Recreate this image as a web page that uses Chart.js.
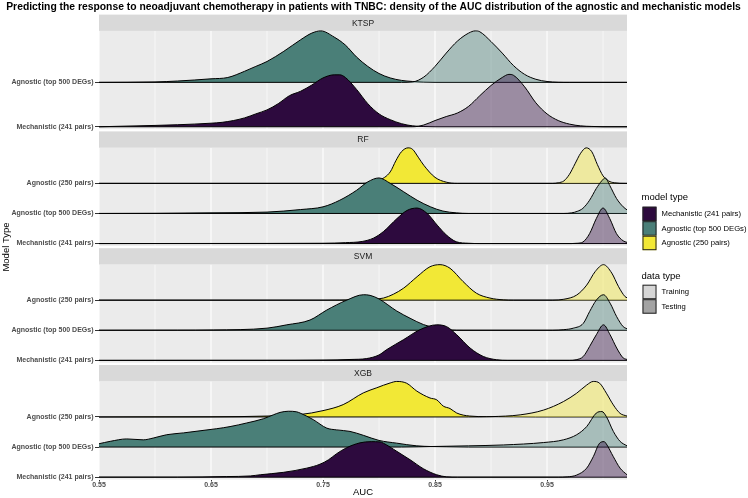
<!DOCTYPE html>
<html><head><meta charset="utf-8">
<script src="https://cdn.jsdelivr.net/npm/chart.js@4.4.1/dist/chart.umd.min.js"></script>
<style>html,body{margin:0;padding:0;background:#fff;}</style>
</head><body>
<canvas id="c" width="748" height="498"></canvas>
<script>
// ---------------- data ----------------
const chartTitle = "Predicting the response to neoadjuvant chemotherapy in patients with TNBC: density of the AUC distribution of the agnostic and mechanistic models";
const facets = ["KTSP", "RF", "SVM", "XGB"];
const modelTypes = ["Mechanistic (241 pairs)", "Agnostic (top 500 DEGs)", "Agnostic (250 pairs)"];
const dataTypes = ["Training", "Testing"];
const xTitle = "AUC";
const yTitle = "Model Type";
const xTicks = [0.55, 0.65, 0.75, 0.85, 0.95];
const xMinor = [0.60, 0.70, 0.80, 0.90, 1.00];
const xRange = [0.55, 1.0214];
// model rows per facet, bottom to top (indices into modelTypes)
const KTSP_rows = [0, 1];
const RF_rows = [0, 1, 2];
const SVM_rows = [0, 1, 2];
const XGB_rows = [0, 1, 2];

// ridge heights (row units) read at AUC values: [AUC, height]
const KTSP_top500_testing = [[0.55,0],[0.60,0.01],[0.62,0.03],[0.65,0.08],[0.665,0.11],[0.68,0.25],[0.69,0.36],[0.70,0.47],[0.715,0.70],[0.73,0.96],[0.74,1.11],[0.748,1.16],[0.76,1.02],[0.77,0.84],[0.78,0.57],[0.79,0.36],[0.80,0.20],[0.81,0.10],[0.82,0.045],[0.83,0.02],[0.85,0],[1.0214,0]];
const KTSP_top500_training = [[0.55,0],[0.82,0],[0.83,0.01],[0.84,0.12],[0.85,0.36],[0.86,0.66],[0.87,0.93],[0.88,1.11],[0.886,1.16],[0.89,1.14],[0.90,0.92],[0.91,0.66],[0.92,0.38],[0.93,0.18],[0.94,0.07],[0.95,0.02],[0.97,0],[1.0214,0]];
const KTSP_mech_testing = [[0.55,0],[0.60,0.03],[0.62,0.045],[0.65,0.08],[0.66,0.10],[0.67,0.14],[0.68,0.20],[0.69,0.29],[0.70,0.38],[0.71,0.52],[0.72,0.70],[0.73,0.80],[0.74,0.94],[0.75,1.10],[0.76,1.17],[0.765,1.17],[0.77,1.11],[0.78,0.84],[0.79,0.52],[0.80,0.29],[0.81,0.16],[0.82,0.07],[0.83,0.02],[0.84,0.005],[0.85,0],[1.0214,0]];
const KTSP_mech_training = [[0.55,0],[0.83,0],[0.84,0.04],[0.85,0.14],[0.86,0.23],[0.87,0.31],[0.88,0.46],[0.89,0.70],[0.90,0.93],[0.91,1.11],[0.916,1.18],[0.92,1.16],[0.93,0.90],[0.94,0.54],[0.95,0.29],[0.96,0.14],[0.97,0.06],[0.98,0.02],[0.99,0.007],[1.0,0],[1.0214,0]];

const RF_250_testing = [[0.55,0],[0.78,0],[0.79,0.01],[0.80,0.1],[0.81,0.38],[0.815,0.75],[0.82,1.05],[0.826,1.18],[0.83,1.13],[0.835,0.87],[0.84,0.6],[0.85,0.2],[0.86,0.04],[0.87,0],[1.0214,0]];
const RF_250_training = [[0.55,0],[0.955,0],[0.96,0.02],[0.965,0.08],[0.97,0.3],[0.975,0.65],[0.98,1.0],[0.985,1.18],[0.99,1.05],[0.995,0.62],[1.0,0.25],[1.005,0.08],[1.01,0.02],[1.02,0],[1.0214,0]];
const RF_top500_testing = [[0.55,0],[0.60,0.005],[0.65,0.02],[0.70,0.045],[0.73,0.13],[0.75,0.22],[0.765,0.44],[0.78,0.77],[0.79,1.05],[0.80,1.18],[0.81,1.0],[0.822,0.72],[0.834,0.44],[0.846,0.22],[0.857,0.08],[0.869,0.02],[0.88,0],[1.0214,0]];
const RF_top500_training = [[0.55,0],[0.965,0],[0.972,0.02],[0.977,0.07],[0.982,0.17],[0.988,0.44],[0.994,0.83],[0.999,1.09],[1.002,1.18],[1.006,0.93],[1.012,0.5],[1.018,0.22],[1.0214,0.12]];
const RF_mech_testing = [[0.55,0],[0.70,0.005],[0.75,0.01],[0.77,0.03],[0.785,0.07],[0.795,0.18],[0.804,0.4],[0.816,0.83],[0.825,1.1],[0.834,1.18],[0.843,1.0],[0.852,0.61],[0.86,0.29],[0.869,0.06],[0.88,0.01],[0.89,0],[1.0214,0]];
const RF_mech_training = [[0.55,0],[0.972,0],[0.977,0.01],[0.982,0.05],[0.988,0.33],[0.994,0.83],[1.0,1.18],[1.006,0.83],[1.012,0.33],[1.018,0.09],[1.0214,0.04]];

const SVM_250_testing = [[0.55,0],[0.75,0],[0.78,0.01],[0.795,0.03],[0.804,0.07],[0.813,0.2],[0.822,0.4],[0.834,0.78],[0.8455,1.11],[0.8545,1.18],[0.8634,1.06],[0.875,0.62],[0.887,0.23],[0.899,0.07],[0.911,0.01],[0.92,0],[1.0214,0]];
const SVM_250_training = [[0.55,0],[0.955,0],[0.965,0.03],[0.9765,0.17],[0.9854,0.5],[0.993,0.95],[1.0004,1.18],[1.0078,0.9],[1.0137,0.46],[1.0196,0.12],[1.0214,0.08]];
const SVM_top500_testing = [[0.55,0],[0.62,0.003],[0.652,0.01],[0.70,0.07],[0.7176,0.18],[0.7384,0.34],[0.7533,0.67],[0.7712,1.0],[0.786,1.18],[0.792,1.16],[0.80,1.04],[0.8158,0.64],[0.8277,0.4],[0.8396,0.19],[0.8515,0.07],[0.8634,0.01],[0.875,0],[1.0214,0]];
const SVM_top500_training = [[0.55,0],[0.955,0],[0.965,0.02],[0.9735,0.07],[0.9824,0.23],[0.988,0.62],[0.994,1.0],[1.0004,1.18],[1.0063,0.9],[1.0122,0.45],[1.018,0.12],[1.0214,0.05]];
const SVM_mech_testing = [[0.55,0],[0.70,0.003],[0.75,0.01],[0.775,0.03],[0.789,0.06],[0.80,0.18],[0.807,0.36],[0.822,0.69],[0.8366,1.02],[0.8515,1.18],[0.8604,1.12],[0.8694,0.85],[0.8813,0.41],[0.8931,0.13],[0.905,0.02],[0.915,0],[1.0214,0]];
const SVM_mech_training = [[0.55,0],[0.97,0],[0.976,0.02],[0.9824,0.13],[0.988,0.46],[0.994,0.85],[1.0004,1.18],[1.0063,0.85],[1.0122,0.41],[1.018,0.08],[1.0214,0.03]];

const XGB_250_testing = [[0.55,0],[0.65,0.005],[0.70,0.03],[0.7295,0.08],[0.75,0.21],[0.768,0.41],[0.786,0.8],[0.798,0.97],[0.81,1.13],[0.8158,1.18],[0.8247,1.12],[0.8337,0.86],[0.8455,0.63],[0.8515,0.57],[0.8574,0.36],[0.8634,0.28],[0.8694,0.13],[0.881,0.03],[0.896,0.01],[0.92,0.005],[0.94,0],[1.0214,0]];
const XGB_250_training = [[0.55,0],[0.88,0],[0.90,0.01],[0.926,0.07],[0.947,0.23],[0.9646,0.51],[0.9765,0.79],[0.9854,1.06],[0.9913,1.18],[0.997,1.12],[1.003,0.79],[1.0092,0.4],[1.0152,0.12],[1.0214,0.03]];
const XGB_top500_testing = [[0.55,0.11],[0.56,0.19],[0.5747,0.27],[0.5896,0.24],[0.5985,0.3],[0.6104,0.41],[0.6253,0.47],[0.6402,0.54],[0.6551,0.61],[0.667,0.68],[0.6819,0.8],[0.6967,0.94],[0.7056,1.07],[0.7116,1.15],[0.719,1.19],[0.7265,1.17],[0.7295,1.13],[0.7413,0.91],[0.7533,0.63],[0.7622,0.57],[0.7741,0.52],[0.786,0.39],[0.80,0.22],[0.8158,0.13],[0.8337,0.04],[0.86,0.01],[0.88,0],[1.0214,0]];
const XGB_top500_training = [[0.55,0],[0.82,0],[0.85,0.02],[0.88,0.04],[0.911,0.07],[0.947,0.15],[0.9646,0.24],[0.9765,0.41],[0.9854,0.68],[0.994,1.13],[0.999,1.18],[1.003,1.01],[1.0092,0.52],[1.0152,0.19],[1.0214,0.04]];
const XGB_mech_testing = [[0.55,0],[0.62,0],[0.664,0.02],[0.685,0.04],[0.694,0.08],[0.7146,0.16],[0.7355,0.3],[0.7473,0.43],[0.755,0.58],[0.7622,0.78],[0.7712,0.98],[0.783,1.14],[0.793,1.18],[0.8009,1.17],[0.8038,1.13],[0.8158,0.86],[0.8277,0.58],[0.8396,0.28],[0.8515,0.08],[0.8604,0.01],[0.87,0],[1.0214,0]];
const XGB_mech_training = [[0.55,0],[0.96,0],[0.968,0.01],[0.9765,0.07],[0.9854,0.3],[0.9913,0.68],[0.997,1.13],[1.001,1.18],[1.003,1.1],[1.0092,0.68],[1.0152,0.3],[1.0214,0.08]];

// ---------------- styling / layout ----------------
const FONT = "'Liberation Sans', Arial, Helvetica, sans-serif";
const modelColors = ["#2D0A3E", "#4A7F78", "#F2E836"];
const TRAIN_ALPHA = 0.42;
const dataKeyColors = ["#D6D6D6", "#A3A3A3"];
const GAP = 2.3, STRIP = 16.3, BODY = 98.2, H_MAX = 1.107, EXP = 0.025;
const Y_AXIS_W = 99, X_AXIS_H = 18.5;

const facetRows = { KTSP: KTSP_rows, RF: RF_rows, SVM: SVM_rows, XGB: XGB_rows };
const ridgeTable = [
  ["KTSP", 1, "Testing", KTSP_top500_testing], ["KTSP", 1, "Training", KTSP_top500_training],
  ["KTSP", 0, "Testing", KTSP_mech_testing], ["KTSP", 0, "Training", KTSP_mech_training],
  ["RF", 2, "Testing", RF_250_testing], ["RF", 2, "Training", RF_250_training],
  ["RF", 1, "Testing", RF_top500_testing], ["RF", 1, "Training", RF_top500_training],
  ["RF", 0, "Testing", RF_mech_testing], ["RF", 0, "Training", RF_mech_training],
  ["SVM", 2, "Testing", SVM_250_testing], ["SVM", 2, "Training", SVM_250_training],
  ["SVM", 1, "Testing", SVM_top500_testing], ["SVM", 1, "Training", SVM_top500_training],
  ["SVM", 0, "Testing", SVM_mech_testing], ["SVM", 0, "Training", SVM_mech_training],
  ["XGB", 2, "Testing", XGB_250_testing], ["XGB", 2, "Training", XGB_250_training],
  ["XGB", 1, "Testing", XGB_top500_testing], ["XGB", 1, "Training", XGB_top500_training],
  ["XGB", 0, "Testing", XGB_mech_testing], ["XGB", 0, "Training", XGB_mech_training]
];

function hexToRgba(hex, a) {
  const n = parseInt(hex.slice(1), 16);
  return `rgba(${(n >> 16) & 255},${(n >> 8) & 255},${n & 255},${a})`;
}
function panelRange(n) {
  const span = (n - 1 + H_MAX) * (1 + 2 * EXP);
  const min = 1 - EXP * (n - 1 + H_MAX);
  const s = BODY / span;
  return { min, bodyMax: min + span, max: min + (BODY + STRIP + GAP) / s };
}

const datasets = ridgeTable.map(([facet, model, dtype, pts], k) => {
  const rowPos = facetRows[facet].indexOf(model) + 1;
  const col = modelColors[model];
  return {
    label: facet + " " + modelTypes[model] + " " + dtype,
    yAxisID: "y" + facet,
    data: pts.map(([a, h]) => ({ x: a, y: rowPos + h })),
    fill: { value: rowPos },
    backgroundColor: dtype === "Training" ? hexToRgba(col, TRAIN_ALPHA) : col,
    borderColor: "#000",
    borderWidth: 1,
    pointRadius: 0,
    cubicInterpolationMode: "monotone",
    order: ridgeTable.length - k
  };
});

const scales = {
  x: {
    type: "linear", position: "bottom", min: xRange[0], max: xRange[1],
    afterBuildTicks: s => { s.ticks = xTicks.map(v => ({ value: v })); },
    afterFit: s => { s.height = X_AXIS_H; },
    ticks: { autoSkip: false, maxRotation: 0, padding: -0.5, color: "#4D4D4D",
      font: { family: FONT, size: 7, weight: "bold" }, callback: v => Number(v).toFixed(2) },
    grid: { drawOnChartArea: false, drawTicks: true, tickLength: 2, color: "#333", lineWidth: 1 },
    border: { display: false }
  }
};
facets.forEach((f, i) => {
  const rows = facetRows[f];
  const r = panelRange(rows.length);
  scales["y" + f] = {
    type: "linear", position: "left", stack: "facets", stackWeight: 1, weight: facets.length - i,
    min: r.min, max: r.max, bounds: "data",
    afterBuildTicks: s => { s.ticks = rows.map((m, k) => ({ value: k + 1 })); },
    afterFit: s => { s.width = Y_AXIS_W; },
    ticks: { autoSkip: false, padding: 1.5, color: "#4D4D4D",
      font: { family: FONT, size: 7, weight: "bold" },
      callback: v => modelTypes[rows[Math.round(v) - 1]] },
    grid: { drawOnChartArea: false, drawTicks: true, tickLength: 4, color: "#333", lineWidth: 1 },
    border: { display: false }
  };
});

const facetPlugin = {
  id: "facetPanels",
  beforeDraw(chart) {
    const ctx = chart.ctx, ca = chart.chartArea, xs = chart.scales.x;
    ctx.save();
    ctx.fillStyle = "#fff";
    ctx.fillRect(0, 0, chart.width, chart.height);
    facets.forEach(f => {
      const ys = chart.scales["y" + f];
      const r = panelRange(facetRows[f].length);
      const bodyTop = ys.getPixelForValue(r.bodyMax), bodyBot = ys.getPixelForValue(r.min);
      const stripTop = bodyTop - STRIP;
      ctx.fillStyle = "#EBEBEB";
      ctx.fillRect(ca.left, bodyTop, ca.right - ca.left, bodyBot - bodyTop);
      ctx.strokeStyle = "#FFFFFF";
      xMinor.forEach(v => {
        const px = xs.getPixelForValue(v);
        ctx.lineWidth = 0.6;
        ctx.beginPath(); ctx.moveTo(px, bodyTop); ctx.lineTo(px, bodyBot); ctx.stroke();
      });
      xTicks.forEach(v => {
        const px = xs.getPixelForValue(v);
        ctx.lineWidth = 1.1;
        ctx.beginPath(); ctx.moveTo(px, bodyTop); ctx.lineTo(px, bodyBot); ctx.stroke();
      });
      ctx.fillStyle = "#D9D9D9";
      ctx.fillRect(ca.left, stripTop, ca.right - ca.left, STRIP);
      ctx.fillStyle = "#1A1A1A";
      ctx.font = `8.5px ${FONT}`;
      ctx.textAlign = "center"; ctx.textBaseline = "middle";
      ctx.fillText(f, (ca.left + ca.right) / 2, stripTop + STRIP / 2 + 0.5);
    });
    ctx.restore();
  },
  afterDraw(chart) {
    const ctx = chart.ctx, ca = chart.chartArea;
    ctx.save();
    // title
    ctx.font = `bold 11px ${FONT}`;
    const w = ctx.measureText(chartTitle).width;
    const ts = 11 * 735 / w;
    ctx.font = `bold ${ts}px ${FONT}`;
    ctx.fillStyle = "#000"; ctx.textAlign = "center"; ctx.textBaseline = "middle";
    ctx.fillText(chartTitle, 373.5, 7.5);
    // axis titles
    ctx.font = `9.5px ${FONT}`;
    ctx.fillText(xTitle, (ca.left + ca.right) / 2, 492.5);
    ctx.save();
    ctx.translate(6, (ca.top + 2.3 + ca.bottom) / 2);
    ctx.rotate(-Math.PI / 2);
    ctx.font = `9.5px ${FONT}`;
    ctx.fillText(yTitle, 0, 0);
    ctx.restore();
    // legends
    const LX = 641.5, KX = 642.5, KW = 14, KH = 14.5, TX = 661.5;
    ctx.textAlign = "left";
    ctx.font = `9.5px ${FONT}`;
    ctx.fillText("model type", LX, 197);
    modelTypes.forEach((m, i) => {
      const y = 206.7 + i * KH;
      ctx.fillStyle = modelColors[i];
      ctx.fillRect(KX, y, KW, KH);
      ctx.strokeStyle = "#222"; ctx.lineWidth = 1;
      ctx.strokeRect(KX + 0.5, y + 0.5, KW - 1, KH - 1);
      ctx.fillStyle = "#000"; ctx.font = `7.7px ${FONT}`;
      ctx.fillText(m, TX, y + KH / 2);
    });
    ctx.font = `9.5px ${FONT}`;
    ctx.fillText("data type", LX, 276);
    dataTypes.forEach((d, i) => {
      const y = 284.7 + i * KH;
      ctx.fillStyle = dataKeyColors[i];
      ctx.fillRect(KX, y, KW, KH);
      ctx.strokeStyle = "#222"; ctx.lineWidth = 1;
      ctx.strokeRect(KX + 0.5, y + 0.5, KW - 1, KH - 1);
      ctx.fillStyle = "#000"; ctx.font = `7.7px ${FONT}`;
      ctx.fillText(d, TX, y + KH / 2);
    });
    ctx.restore();
  }
};

new Chart(document.getElementById("c"), {
  type: "line",
  data: { datasets },
  options: {
    responsive: false, devicePixelRatio: 1, animation: false, events: [],
    layout: { padding: { left: 0, right: 121, top: 12.3, bottom: 0 } },
    plugins: { legend: { display: false }, tooltip: { enabled: false }, title: { display: false },
      filler: { propagate: false } },
    scales
  },
  plugins: [facetPlugin]
});
</script>
</body></html>
